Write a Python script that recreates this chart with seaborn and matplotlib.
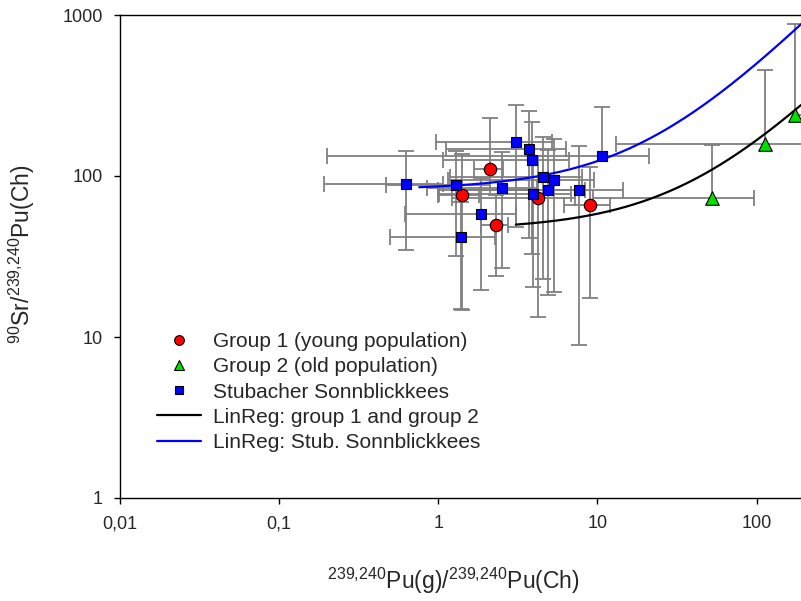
"""Sr-90 / Pu ratio vs Pu(g)/Pu(Ch) ratio, log-log with error bars and regression lines."""

import numpy as np
import pandas as pd

import matplotlib
matplotlib.use('Agg')
import seaborn as sns
import matplotlib.pyplot as plt
from matplotlib.lines import Line2D

###################################################################################################
###################################################################################################

# Group 1 (young population)
g1_x = [2.11, 1.40, 4.22, 2.30, 9.02]
g1_y = [110, 76.2, 73.3, 49.8, 65.8]
g1_xerr = [0.43, 0.40, 3.0, 0.45, 2.9]
g1_yerr = [120, 61.5, 60, 26, 48.4]

# Group 2 (old population)
g2_x = [52.7, 113, 175]
g2_y = [72.9, 157, 238]
g2_xerr = [43.3, 100, 180]
g2_yerr = [82, 298, 638]

# Stubacher Sonnblickkees
stub_x = [0.631, 1.29, 2.52, 3.07, 3.71, 3.87, 4.58, 5.35, 3.91, 4.88, 7.69, 10.6, 1.85, 1.39]
stub_y = [88.8, 87.9, 83.9, 162, 148, 125, 99, 94.9, 76.9, 81.9, 81.5, 133, 58.1, 42.0]
stub_xerr = [0.44, 0.82, 1.67, 2.1, 2.6, 2.8, 3.4, 4.2, 2.9, 3.5, 6.7, 10.4, 1.23, 0.89]
stub_yerr = [54, 56, 57, 114, 107, 92, 76, 76, 56.4, 63.7, 72.6, 136, 38.5, 27]

# Linear regressions (intercept, slope, x range)
reg_g12 = (46.2, 1.209, 3.07, 190)
reg_stub = (82.0, 4.18, 0.759, 190)

x_ticks = [0.01, 0.1, 1, 10, 100]
x_tick_labels = ['0,01', '0,1', '1', '10', '100']
y_ticks = [1, 10, 100, 1000]
y_tick_labels = ['1', '10', '100', '1000']

labels = ['Group 1 (young population)', 'Group 2 (old population)', 'Stubacher Sonnblickkees',
          'LinReg: group 1 and group 2', 'LinReg: Stub. Sonnblickkees']

###################################################################################################
###################################################################################################

def plot_err_bars(ax, x, y, xerr, yerr, color='#808080', cap=11):
    """Draw error bars, leaving out the side that would go below zero on the log axes."""

    kw = dict(color=color, lw=1.3, zorder=2, solid_capstyle='butt')
    ckw = dict(color=color, ls='none', markeredgewidth=1.3, markersize=cap, zorder=2)

    for xi, yi, xe, ye in zip(x, y, xerr, yerr):
        ax.plot([xi, xi + xe], [yi, yi], **kw)
        ax.plot([xi + xe], [yi], marker='|', **ckw)
        if xi - xe > 0:
            ax.plot([xi - xe, xi], [yi, yi], **kw)
            ax.plot([xi - xe], [yi], marker='|', **ckw)
        ax.plot([xi, xi], [yi, yi + ye], **kw)
        ax.plot([xi], [yi + ye], marker='_', **ckw)
        if yi - ye > 0:
            ax.plot([xi, xi], [yi - ye, yi], **kw)
            ax.plot([xi], [yi - ye], marker='_', **ckw)


sns.set_style('ticks')
plt.rcParams['font.family'] = ['Liberation Sans', 'DejaVu Sans']
plt.rcParams['mathtext.default'] = 'regular'

fig = plt.figure(figsize=(8.01, 6.01), dpi=100)
ax = fig.add_axes([120 / 801, 1 - 498 / 601, 681 / 801, 483 / 601])

ax.set_xscale('log')
ax.set_yscale('log')

# Error bars first, so the markers sit on top
plot_err_bars(ax, g1_x, g1_y, g1_xerr, g1_yerr)
plot_err_bars(ax, g2_x, g2_y, g2_xerr, g2_yerr)
plot_err_bars(ax, stub_x, stub_y, stub_xerr, stub_yerr)

# Regression lines
for (a, b, x0, x1), col in zip([reg_g12, reg_stub], ['black', '#0000ff']):
    xs = np.geomspace(x0, x1, 200)
    line = pd.DataFrame({'x': xs, 'y': a + b * xs})
    sns.lineplot(data=line, x='x', y='y', color=col, lw=1.6, ax=ax, zorder=3, legend=False)

# Data points
sns.scatterplot(x=g1_x, y=g1_y, marker='o', s=80, color='#ff0000', edgecolor='black',
                linewidth=0.8, ax=ax, zorder=4)
sns.scatterplot(x=g2_x, y=g2_y, marker='^', s=95, color='#00e000', edgecolor='black',
                linewidth=0.8, ax=ax, zorder=4)
sns.scatterplot(x=stub_x, y=stub_y, marker='s', s=62, color='#0000ff', edgecolor='black',
                linewidth=0.8, ax=ax, zorder=4)

ax.set_xlim([0.01, 190])
ax.set_ylim([1, 1000])
ax.set_xticks(x_ticks, x_tick_labels)
ax.set_yticks(y_ticks, y_tick_labels)
ax.minorticks_off()
ax.tick_params(direction='out', length=4.5, width=1, labelsize=13, pad=8, color='black')

# Titles & Labels
ax.set_xlabel(r'$^{239{,}240}$Pu(g)/$^{239{,}240}$Pu(Ch)', fontsize=16.5)
ax.set_ylabel(r'$^{90}$Sr/$^{239{,}240}$Pu(Ch)', fontsize=16.5)
ax.xaxis.set_label_coords(0.489, -0.14)
ax.yaxis.set_label_coords(-0.122, 0.505)

# Only left, bottom and top frame
ax.spines['right'].set_visible(False)
for side in ['left', 'bottom', 'top']:
    ax.spines[side].set_linewidth(1)
    ax.spines[side].set_color('black')

# Legend
handles = [
    Line2D([], [], ls='none', marker='o', markersize=7, markerfacecolor='#ff0000', markeredgecolor='black', markeredgewidth=0.8),
    Line2D([], [], ls='none', marker='^', markersize=7, markerfacecolor='#00e000', markeredgecolor='black', markeredgewidth=0.8),
    Line2D([], [], ls='none', marker='s', markersize=6, markerfacecolor='#0000ff', markeredgecolor='black', markeredgewidth=0.8),
    Line2D([], [], color='black', lw=1.6),
    Line2D([], [], color='#0000ff', lw=1.6),
]
fig.legend(handles, labels, loc='upper left', bbox_to_anchor=(157 / 801, 1 - 332 / 601),
           frameon=False, fontsize=15, handlelength=2.1, handletextpad=0.6,
           labelspacing=0.3, borderpad=0, borderaxespad=0)

plt.savefig('out.png', dpi=100)
